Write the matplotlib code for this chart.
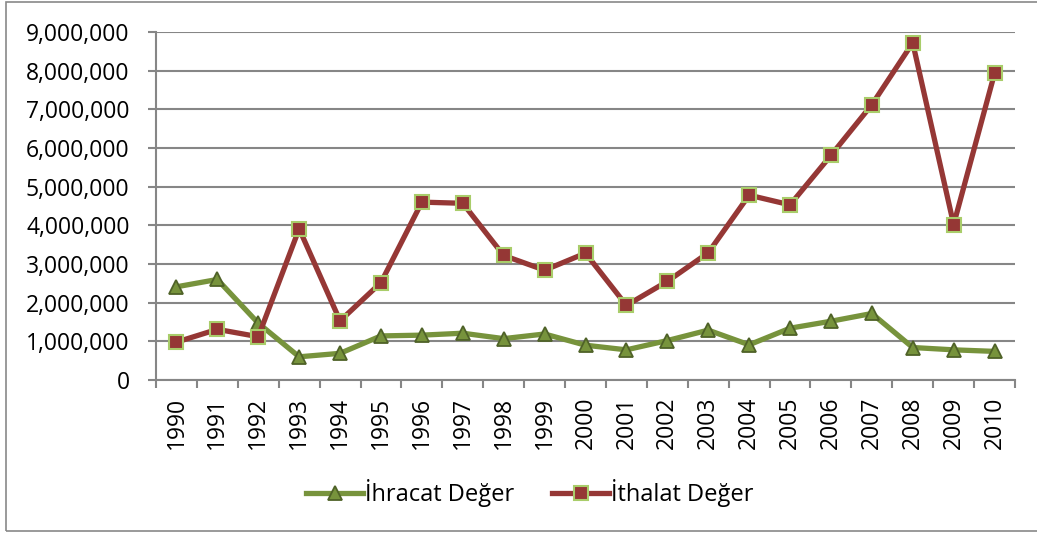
import numpy as np
import matplotlib
matplotlib.use('Agg')
import matplotlib.pyplot as plt
from matplotlib.ticker import FuncFormatter
from matplotlib.patches import Rectangle

plt.rcParams['font.family'] = ['Open Sans', 'DejaVu Sans']

years = [str(y) for y in range(1990, 2011)]
ihracat = [2.41, 2.60, 1.47, 0.60, 0.69, 1.14, 1.16, 1.21, 1.07, 1.19, 0.90,
           0.78, 1.02, 1.29, 0.91, 1.34, 1.52, 1.72, 0.84, 0.78, 0.74]
ithalat = [0.98, 1.31, 1.12, 3.91, 1.53, 2.52, 4.60, 4.57, 3.22, 2.84, 3.28,
           1.93, 2.55, 3.29, 4.78, 4.53, 5.81, 7.12, 8.72, 4.02, 7.93]
ihracat = np.array(ihracat) * 1e6
ithalat = np.array(ithalat) * 1e6

fig = plt.figure(figsize=(10.37, 5.33), dpi=100)
ax = fig.add_axes([156 / 1037, 1 - 380 / 533, (1015 - 156) / 1037, (380 - 32) / 533])

x = np.arange(len(years))
grid_c = '#868686'

ax.plot(x, ihracat, color='#77933C', lw=3.8, marker='^', ms=10,
        mfc='#77933C', mec='#4F6228', mew=1.3, label='İhracat Değer', zorder=3)
ax.plot(x, ithalat, color='#953735', lw=3.8, marker='s', ms=10,
        mfc='#953735', mec='#A9CD6A', mew=1.5, label='İthalat Değer', zorder=4)

ax.set_xlim(-0.5, len(years) - 0.5)
ax.set_ylim(0, 9e6)
ax.set_yticks(np.arange(0, 9e6 + 1, 1e6))
ax.yaxis.set_major_formatter(FuncFormatter(lambda v, p: f'{int(v):,}'))
ax.yaxis.grid(True, color=grid_c, lw=1.5)
ax.set_axisbelow(True)

ax.set_xticks(x)
ax.set_xticklabels(years, rotation=90)
ax.set_xticks(np.arange(-0.5, len(years)), minor=True)
ax.tick_params(axis='x', which='major', length=0, pad=12, labelsize=16.5)
ax.tick_params(axis='x', which='minor', length=6, width=1.5, color=grid_c, direction='out')
ax.tick_params(axis='y', length=6, width=1.5, color=grid_c, pad=13, labelsize=16.5)

for s in ['top', 'right']:
    ax.spines[s].set_visible(False)
for s in ['left', 'bottom']:
    ax.spines[s].set_color(grid_c)
    ax.spines[s].set_linewidth(1.5)

leg = fig.legend(loc='center', bbox_to_anchor=(530 / 1037, 1 - 493 / 533), ncol=2,
                 frameon=False, fontsize=17, handlelength=2.4, handletextpad=0.1,
                 columnspacing=1.6)

fig.patches.append(Rectangle((6 / 1037, 2 / 533), 1.2, 529 / 533,
                             transform=fig.transFigure, fill=False,
                             edgecolor='#898989', lw=1.2))

fig.savefig('out.png', dpi=100)
